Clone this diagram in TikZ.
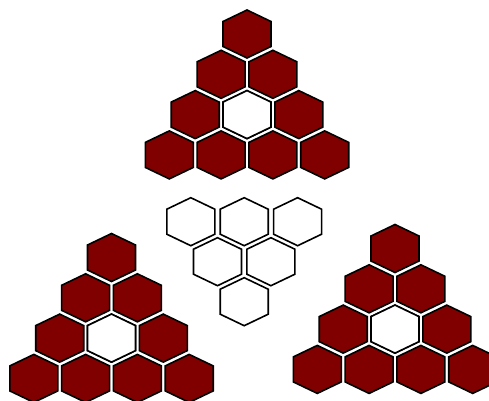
\documentclass[tikz,border=0pt]{standalone}
\definecolor{maroon}{HTML}{800000}
\begin{document}
\begin{tikzpicture}[x=1pt,y=-1pt,
 hexagon/.pic={\path[pic actions] (0,-24) -- (24,-12.5) -- (24,12.5) -- (0,24) -- (-24,12.5) -- (-24,-12.5) -- cycle;},
 filled/.style={draw=black,line width=1.6pt,fill=maroon},
 empty/.style={draw=black,line width=1.6pt,fill=white}]
\useasboundingbox (0,0) rectangle (489,400);
% three triangles of ten cells, middle cell left empty
\foreach \tx/\ty in {247/34,111.5/257.5,395/248.5} {
  \foreach \r in {0,...,3}
    \foreach \c in {0,...,\r}
      \pic[filled] at ({\tx+(\c-\r/2)*51.8},{\ty+\r*40.3}) {hexagon};
  \pic[empty] at (\tx,{\ty+2*40.3}) {hexagon};
}
% the six empty cells in the middle
\foreach \r in {0,1,2} {
  \pgfmathtruncatemacro\last{2-\r}
  \foreach \c in {0,...,\last}
    \pic[empty] at ({244.2+(\c-\last/2)*53.4},{221.7+\r*40}) {hexagon};
}
\end{tikzpicture}
\end{document}
